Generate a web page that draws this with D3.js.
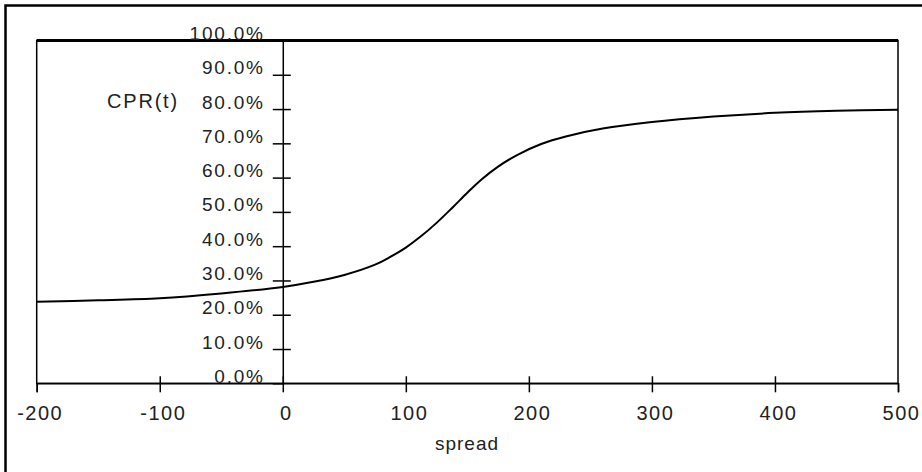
<!DOCTYPE html>
<html>
<head>
<meta charset="utf-8">
<script src="https://cdn.jsdelivr.net/npm/d3@7/dist/d3.min.js"></script>
<style>
  html, body { margin: 0; padding: 0; background: #fff; }
  svg { display: block; }
  text { font-family: "Liberation Sans", Arial, Helvetica, sans-serif; fill: #222; }
</style>
</head>
<body>
<svg id="chart" width="922" height="472"></svg>
<script>
// ---- data ----
const spread = [-200, -150, -100, -50, 0, 25, 50, 75, 87, 100, 112, 125, 138, 150, 162, 175, 190, 210, 230, 260, 300, 350, 400, 450, 500];
const cpr    = [23.8, 24.2, 24.8, 26.2, 28.1, 29.6, 31.6, 34.6, 36.8, 39.6, 42.8, 46.8, 51.3, 55.6, 59.6, 63.2, 66.5, 69.8, 72.0, 74.3, 76.2, 77.8, 78.9, 79.5, 79.8];
const xTicks = [-200, -100, 0, 100, 200, 300, 400, 500];
const yTicks = [0, 10, 20, 30, 40, 50, 60, 70, 80, 90, 100];
const xTitle = "spread";
const yTitle = "CPR(t)";

const svg = d3.select("#chart");

// outer frame (only top and left visible in the crop)
svg.append("rect")
  .attr("x", 5.5).attr("y", 5.5)
  .attr("width", 940).attr("height", 490)
  .attr("fill", "none").attr("stroke", "#000").attr("stroke-width", 2.5);

const x = d3.scaleLinear().domain([-200, 500]).range([36.7, 898]);
const y = d3.scaleLinear().domain([0, 100]).range([383.3, 40.5]);

// plot box
svg.append("rect")
  .attr("x", x(-200)).attr("y", y(100))
  .attr("width", x(500) - x(-200)).attr("height", y(0) - y(100))
  .attr("fill", "none").attr("stroke", "#000").attr("stroke-width", 1.5);
// thick top line
svg.append("line")
  .attr("x1", x(-200)).attr("x2", x(500))
  .attr("y1", y(100)).attr("y2", y(100))
  .attr("stroke", "#000").attr("stroke-width", 3);

// x axis (ticks cross the line)
const xAxisG = svg.append("g")
  .attr("transform", `translate(0,${y(0)})`)
  .call(d3.axisBottom(x).tickValues(xTicks).tickSize(9).tickPadding(14)
        .tickFormat(d => d3.format("d")(d).replace("−", "-")));
xAxisG.select(".domain").attr("stroke-width", 1.5);
xAxisG.selectAll(".tick line").attr("stroke-width", 1.5);
xAxisG.selectAll(".tick text")
  .attr("font-size", 20).attr("letter-spacing", "1.5px").attr("dx", 3).attr("fill", "#222");
const xAxisUp = svg.append("g")
  .attr("transform", `translate(0,${y(0)})`)
  .call(d3.axisTop(x).tickValues(xTicks.filter(d => d > -200 && d < 500)).tickSize(7).tickFormat(""));
xAxisUp.select(".domain").remove();
xAxisUp.selectAll(".tick line").attr("stroke-width", 1.5);

// y axis at spread = 0 (ticks cross the line)
const yAxisG = svg.append("g")
  .attr("transform", `translate(${x(0)},0)`)
  .call(d3.axisLeft(y).tickValues(yTicks).tickSize(10).tickPadding(8)
        .tickFormat(d => d3.format(".1f")(d) + "%"));
yAxisG.select(".domain").attr("stroke-width", 1.5);
yAxisG.selectAll(".tick line").attr("stroke-width", 1.5)
  .filter(d => d === 0 || d === 100).remove();
yAxisG.selectAll(".tick text")
  .attr("font-size", 19).attr("letter-spacing", "1.8px").attr("dy", "-0.05em").attr("fill", "#222");
const yAxisR = svg.append("g")
  .attr("transform", `translate(${x(0)},0)`)
  .call(d3.axisRight(y).tickValues(yTicks.filter(d => d > 0 && d < 100)).tickSize(8).tickFormat(""));
yAxisR.select(".domain").remove();
yAxisR.selectAll(".tick line").attr("stroke-width", 1.5);

// curve
const line = d3.line()
  .x((d, i) => x(spread[i]))
  .y((d, i) => y(cpr[i]))
  .curve(d3.curveCatmullRom.alpha(0.5));
svg.append("path")
  .datum(cpr)
  .attr("d", line)
  .attr("fill", "none")
  .attr("stroke", "#000")
  .attr("stroke-width", 2);

// titles
svg.append("text")
  .attr("x", 467).attr("y", 450)
  .attr("text-anchor", "middle")
  .attr("font-size", 19).attr("letter-spacing", "1px")
  .text(xTitle);
svg.append("text")
  .attr("x", 107).attr("y", 108)
  .attr("font-size", 20).attr("letter-spacing", "1.8px")
  .text(yTitle);
</script>
</body>
</html>
